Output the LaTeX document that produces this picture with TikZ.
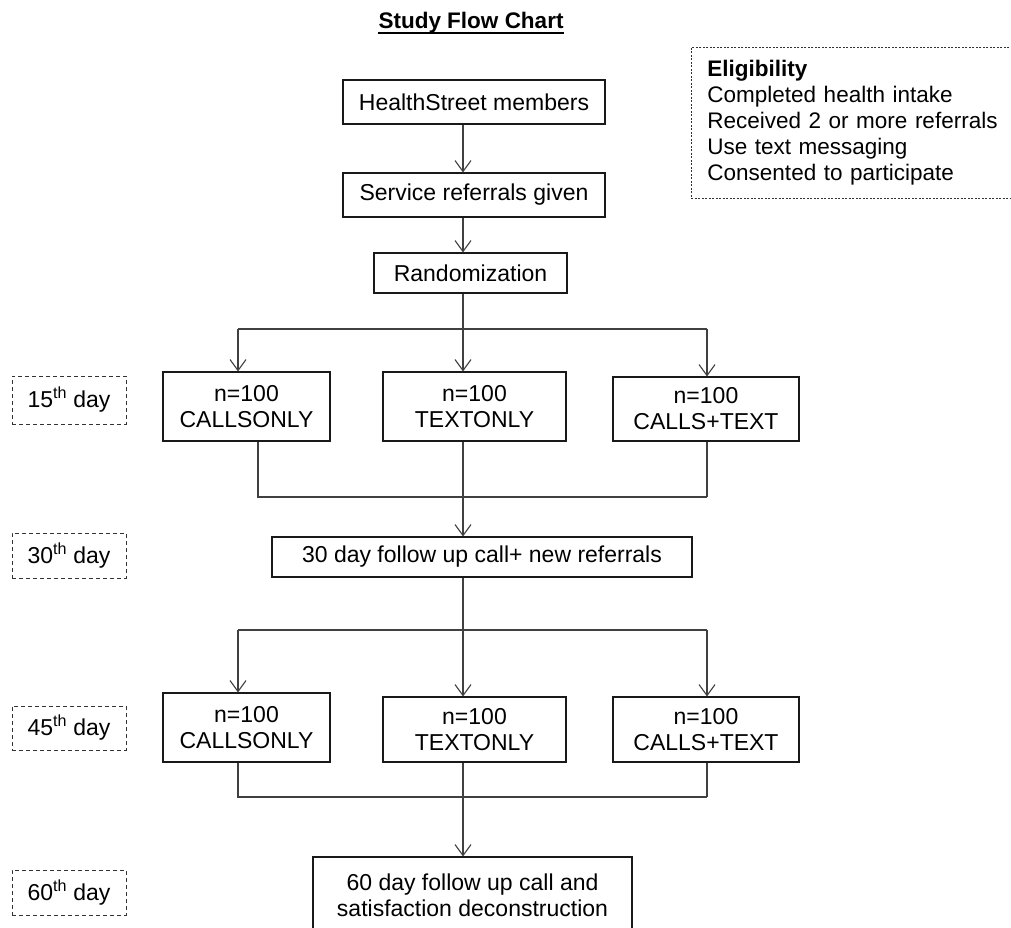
\documentclass[tikz,border=0pt]{standalone}
\usepackage{fontspec}
\setmainfont{Liberation Sans}
\usetikzlibrary{arrows.meta}
\begin{document}
\begin{tikzpicture}[x=1pt,y=-1pt,
  txt/.style={font=\fontsize{23}{26}\selectfont},
  box/.style={txt, draw=black!90, line width=1.1pt, inner sep=0pt, align=center},
  daybox/.style={txt, draw=black!80, line width=1pt, dash pattern=on 4pt off 3pt, inner sep=0pt, minimum width=114pt, align=center},
  eligbox/.style={font=\fontsize{22.5}{26}\selectfont, draw=black!80, line width=0.9pt, dash pattern=on 2pt off 1.5pt, align=left, text width=300pt, inner xsep=16pt, minimum height=151pt, anchor=north west},
  conn/.style={draw=black!75, line width=1.1pt},
  arr/.style={conn, -{Straight Barb[length=11pt,width=16pt,line width=1.1pt]}}
]
\useasboundingbox (0,0) rectangle (1011,927);
\fill[white] (0,0) rectangle (1011,927);

% title
\node[inner sep=0pt, font=\bfseries\fontsize{22.5}{26}\selectfont] (title) at (471,23) {Study Flow Chart};
\draw[line width=1.8pt] ([yshift=-4pt]title.base west) -- ([yshift=-4pt]title.base east);

% eligibility
\node[eligbox] (elig) at (691,47) {\textbf{Eligibility}\\Completed health intake\\Received 2 or more referrals\\Use text messaging\\Consented to participate};

% column coordinates
\coordinate (ca) at (238,0);
\coordinate (cb) at (463,0);
\coordinate (cc) at (707,0);
\coordinate (cl) at (258,0);
\coordinate (j1) at (0,329);
\coordinate (j2) at (0,497);
\coordinate (j3) at (0,630);
\coordinate (j4) at (0,797);

% main boxes
\node[box, minimum width=262pt, minimum height=44pt] (hs) at (474,102) {HealthStreet members};
\node[box, minimum width=262pt, minimum height=44pt] (srv) at (474,195) {Service referrals given};
\node[box, minimum width=193pt, minimum height=40pt] (rand) at (470.5,273) {Randomization};

\node[box, minimum width=167pt, minimum height=69pt] (a1) at (246.5,406.5) {n=100\\CALLSONLY};
\node[box, minimum width=183pt, minimum height=69pt] (b1) at (474.5,406.5) {n=100\\TEXTONLY};
\node[box, minimum width=186pt, minimum height=64pt] (c1) at (706,409) {n=100\\CALLS+TEXT};

\node[box, minimum width=420pt, minimum height=40pt] (fu30) at (482,557) {30 day follow up call+ new referrals};

\node[box, minimum width=167pt, minimum height=69pt] (a2) at (246.5,727.5) {n=100\\CALLSONLY};
\node[box, minimum width=183pt, minimum height=65pt] (b2) at (474.5,729.5) {n=100\\TEXTONLY};
\node[box, minimum width=186pt, minimum height=65pt] (c2) at (706,729.5) {n=100\\CALLS+TEXT};

\node[box, minimum width=319pt, minimum height=76pt] (fu60) at (472.5,895) {60 day follow up call and\\satisfaction deconstruction};

% day labels
\node[daybox, minimum height=48pt] (d15) at (69,400) {15\textsuperscript{th} day};
\node[daybox, minimum height=45pt] (d30) at (69,555.5) {30\textsuperscript{th} day};
\node[daybox, minimum height=44pt] (d45) at (69,728) {45\textsuperscript{th} day};
\node[daybox, minimum height=45pt] (d60) at (69,892.5) {60\textsuperscript{th} day};

% connectors
\draw[arr] (hs.south -| cb) -- (srv.north -| cb);
\draw[arr] (srv.south -| cb) -- (rand.north -| cb);

\draw[conn] (rand.south -| cb) -- (j1 -| cb);
\draw[conn] (j1 -| ca) -- (j1 -| cc);
\draw[arr] (j1 -| ca) -- (a1.north -| ca);
\draw[arr] (j1 -| cb) -- (b1.north -| cb);
\draw[arr] (j1 -| cc) -- (c1.north -| cc);

\draw[conn] (a1.south -| cl) -- (j2 -| cl) -- (j2 -| cc);
\draw[conn] (c1.south -| cc) -- (j2 -| cc);
\draw[arr] (b1.south -| cb) -- (fu30.north -| cb);

\draw[conn] (fu30.south -| cb) -- (j3 -| cb);
\draw[conn] (j3 -| ca) -- (j3 -| cc);
\draw[arr] (j3 -| ca) -- (a2.north -| ca);
\draw[arr] (j3 -| cb) -- (b2.north -| cb);
\draw[arr] (j3 -| cc) -- (c2.north -| cc);

\draw[conn] (a2.south -| ca) -- (j4 -| ca) -- (j4 -| cc);
\draw[conn] (c2.south -| cc) -- (j4 -| cc);
\draw[arr] (b2.south -| cb) -- (fu60.north -| cb);
\end{tikzpicture}
\end{document}
